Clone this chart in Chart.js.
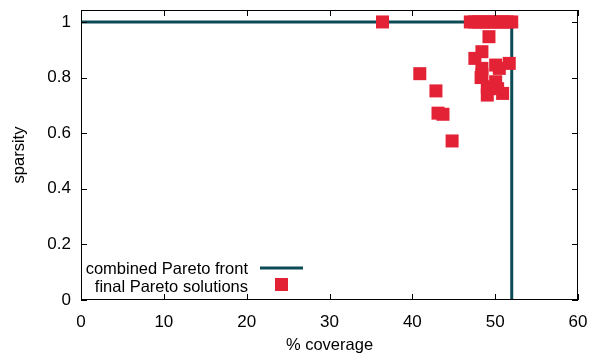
<!DOCTYPE html>
<html>
<head>
    <title>Pareto coverage vs sparsity</title>
    <script src="https://cdn.jsdelivr.net/npm/chart.js"></script>
    <style>
        body { margin: 0; background: #fff; }
        #wrap { width: 599px; height: 358px; }
    </style>
</head>
<body>
    <div id="wrap"><canvas id="paretoChart"></canvas></div>
    <script>
        // combined Pareto front (coverage %, sparsity)
        var frontX = [0, 52, 52];
        var frontY = [1, 1, 0];
        // final Pareto solutions
        var solX = [36.4, 47, 47.5, 48, 48.5, 49, 49.5, 50, 50.5, 51, 51.5, 52,
                    49.25, 48.4, 47.55, 51.7, 50.06, 50.5, 48.4, 40.9, 48.4, 48.3,
                    50.06, 49.05, 50.3, 50.9, 49.05, 42.85, 43.1, 43.7, 44.8];
        var solY = [1, 1, 1, 1, 1, 1, 1, 1, 1, 1, 1, 1,
                    0.947, 0.893, 0.869, 0.851, 0.845, 0.833, 0.833, 0.814, 0.81, 0.80,
                    0.785, 0.767, 0.76, 0.743, 0.737, 0.752, 0.672, 0.668, 0.572];
        var xTicks = [0, 10, 20, 30, 40, 50, 60];
        var yTicks = [0, 0.2, 0.4, 0.6, 0.8, 1];
        var legendLabels = ['combined Pareto front', 'final Pareto solutions'];

        var lineColor = '#0c4b56';
        var pointColor = '#e42236';
        var font = 'Liberation Sans, Arial, sans-serif';

        function pairs(xs, ys) {
            return xs.map(function (x, i) { return { x: x, y: ys[i] }; });
        }

        // gnuplot-like frame, inward ticks and legend inside the plot
        var framePlugin = {
            id: 'frame',
            afterDraw: function (chart) {
                var c = chart.ctx, a = chart.chartArea;
                var xs = chart.scales.x, ys = chart.scales.y;
                c.save();
                c.strokeStyle = '#000';
                c.lineWidth = 1;
                c.strokeRect(a.left + 0.5, a.top + 0.5, a.right - a.left - 1, a.bottom - a.top - 1);
                c.beginPath();
                xTicks.forEach(function (t) {
                    var px = Math.round(xs.getPixelForValue(t)) + 0.5;
                    c.moveTo(px, a.bottom); c.lineTo(px, a.bottom - 6);
                    c.moveTo(px, a.top); c.lineTo(px, a.top + 6);
                });
                yTicks.forEach(function (t) {
                    var py = Math.round(ys.getPixelForValue(t)) + 0.5;
                    c.moveTo(a.left, py); c.lineTo(a.left + 6, py);
                    c.moveTo(a.right, py); c.lineTo(a.right - 6, py);
                });
                c.stroke();

                // legend
                c.font = '16.5px ' + font;
                c.fillStyle = '#000';
                c.textAlign = 'right';
                c.textBaseline = 'middle';
                c.fillText(legendLabels[0], 248, 269);
                c.fillText(legendLabels[1], 248, 287);
                c.strokeStyle = lineColor;
                c.lineWidth = 3;
                c.beginPath();
                c.moveTo(260, 268); c.lineTo(303, 268);
                c.stroke();
                c.fillStyle = pointColor;
                c.fillRect(275, 278, 13, 13);
                c.restore();
            }
        };

        var ctx = document.getElementById('paretoChart').getContext('2d');
        var paretoChart = new Chart(ctx, {
            type: 'scatter',
            data: {
                datasets: [{
                    label: legendLabels[1],
                    data: pairs(solX, solY),
                    pointStyle: 'rect',
                    pointRadius: 9.2,
                    pointHoverRadius: 9.2,
                    backgroundColor: pointColor,
                    borderColor: pointColor,
                    borderWidth: 0,
                    order: 1
                }, {
                    type: 'line',
                    label: legendLabels[0],
                    data: pairs(frontX, frontY),
                    borderColor: lineColor,
                    borderWidth: 3,
                    pointRadius: 0,
                    fill: false,
                    tension: 0,
                    clip: 2,
                    order: 2
                }]
            },
            options: {
                responsive: true,
                maintainAspectRatio: false,
                animation: false,
                layout: { padding: { top: 10, right: 21, left: 0, bottom: 0 } },
                plugins: {
                    legend: { display: false },
                    tooltip: { enabled: false }
                },
                scales: {
                    x: {
                        type: 'linear',
                        min: 0,
                        max: 60,
                        afterBuildTicks: function (s) { s.ticks = xTicks.map(function (v) { return { value: v }; }); },
                        afterFit: function (s) {
                            s.height = 58;
                            s.paddingLeft = 0; s.paddingRight = 0;
                            s.paddingTop = 0; s.paddingBottom = 0;
                        },
                        grid: { display: false, drawTicks: false },
                        border: { display: false },
                        ticks: { padding: 12, color: '#000', font: { family: font, size: 17 } },
                        title: {
                            display: true,
                            text: '% coverage',
                            color: '#000',
                            padding: { top: 4, bottom: 3 },
                            font: { family: font, size: 16.5 }
                        }
                    },
                    y: {
                        type: 'linear',
                        min: 0,
                        max: 1.043,
                        afterBuildTicks: function (s) { s.ticks = yTicks.map(function (v) { return { value: v }; }); },
                        afterFit: function (s) {
                            s.width = 81;
                            s.paddingLeft = 0; s.paddingRight = 0;
                            s.paddingTop = 0; s.paddingBottom = 0;
                        },
                        grid: { display: false, drawTicks: false },
                        border: { display: false },
                        ticks: {
                            padding: 10,
                            color: '#000',
                            font: { family: font, size: 17 },
                            callback: function (v) { return String(Math.round(v * 10) / 10); }
                        },
                        title: {
                            display: true,
                            text: 'sparsity',
                            color: '#000',
                            padding: { top: 10, bottom: 0 },
                            font: { family: font, size: 16.5 }
                        }
                    }
                }
            },
            plugins: [framePlugin]
        });
    </script>
</body>
</html>
